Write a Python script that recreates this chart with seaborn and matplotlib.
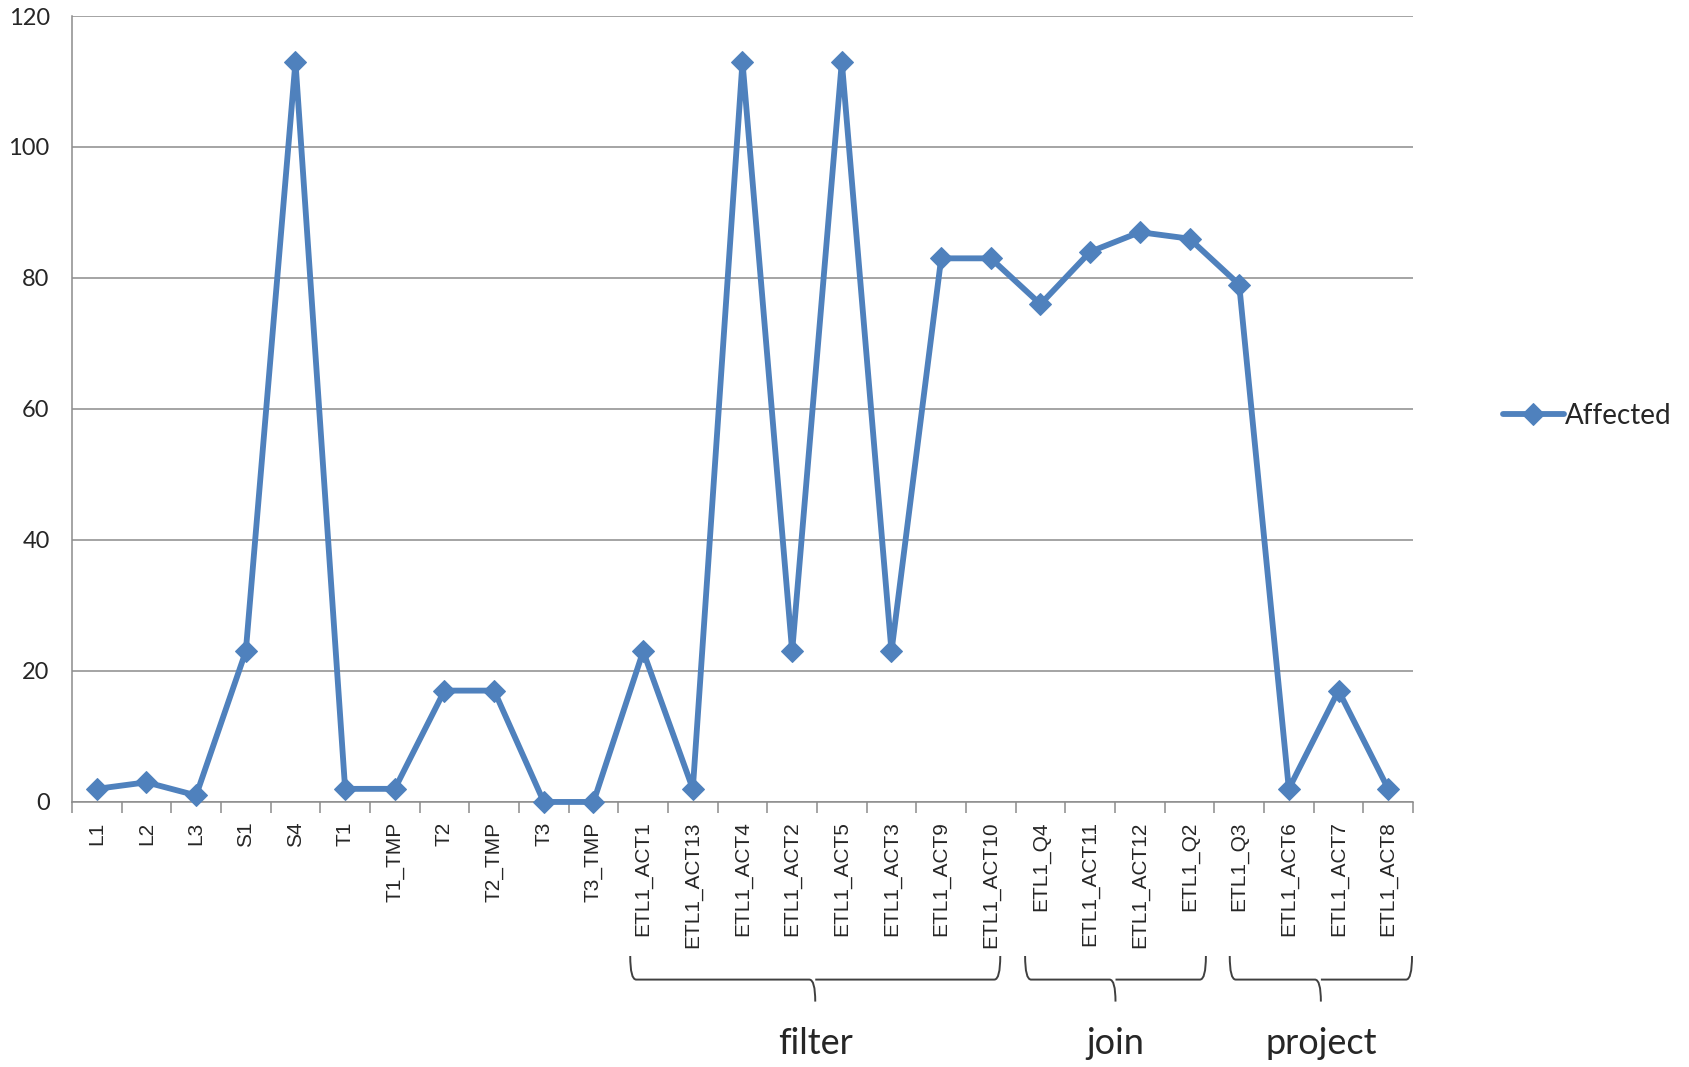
import numpy as np
import pandas as pd
import seaborn as sns
import matplotlib.pyplot as plt
from matplotlib.path import Path
from matplotlib.patches import PathPatch

categories = ['L1', 'L2', 'L3', 'S1', 'S4', 'T1', 'T1_TMP', 'T2', 'T2_TMP', 'T3', 'T3_TMP',
              'ETL1_ACT1', 'ETL1_ACT13', 'ETL1_ACT4', 'ETL1_ACT2', 'ETL1_ACT5', 'ETL1_ACT3',
              'ETL1_ACT9', 'ETL1_ACT10', 'ETL1_Q4', 'ETL1_ACT11', 'ETL1_ACT12', 'ETL1_Q2',
              'ETL1_Q3', 'ETL1_ACT6', 'ETL1_ACT7', 'ETL1_ACT8']
affected = [2, 3, 1, 23, 113, 2, 2, 17, 17, 0, 0,
            23, 2, 113, 23, 113, 23, 83, 83, 76, 84, 87, 86,
            79, 2, 17, 2]

# groups: name, first category, last category
group_names = ['filter', 'join', 'project']
group_first = ['ETL1_ACT1', 'ETL1_Q4', 'ETL1_Q3']
group_last = ['ETL1_ACT10', 'ETL1_Q2', 'ETL1_ACT8']

# hand-drawn braces do not line up exactly with the categories
brace_pad_left = [0.26, 0.31, 0.19]
brace_pad_right = [0.19, 0.33, 0.48]

blue = '#4F81BD'
grid_grey = '#8C8C8C'

df = pd.DataFrame({'category': categories, 'Affected': affected})

sns.set_style('white')
plt.rcParams['font.family'] = ['Lato', 'DejaVu Sans']

fig = plt.figure(figsize=(16.89, 10.67), dpi=100)
ax = fig.add_axes([0.0426, 0.2484, 0.7940, 0.7366])

sns.lineplot(data=df, x='category', y='Affected', sort=False, ax=ax,
             color=blue, linewidth=4.2, marker='D', markersize=11,
             markeredgecolor=blue, label='Affected', clip_on=False, zorder=3)

n = len(categories)
ax.set_xlim(-0.5, n - 0.5)
ax.set_ylim(0, 120)
ax.set_yticks(np.arange(0, 121, 20))
ax.yaxis.grid(True, color=grid_grey, linewidth=1.1)
ax.set_axisbelow(True)
ax.set_xlabel('')
ax.set_ylabel('')

# category labels at centres, tick marks at boundaries
ax.set_xticks(np.arange(n))
ax.set_xticklabels(categories, rotation=90, family='Liberation Sans', fontsize=15)
ax.set_xticks(np.arange(n + 1) - 0.5, minor=True)
ax.tick_params(axis='x', which='major', length=0, pad=14)
ax.tick_params(axis='x', which='minor', length=8, width=1.1, color=grid_grey, direction='out')
ax.tick_params(axis='y', length=8, width=1.1, color=grid_grey, labelsize=17, pad=8)
ax.tick_params(bottom=True, which='minor')

for s in ['top', 'right']:
    ax.spines[s].set_visible(False)
for s in ['left', 'bottom']:
    ax.spines[s].set_color(grid_grey)
    ax.spines[s].set_linewidth(1.1)

leg = ax.legend(loc='center left', bbox_to_anchor=(0.875, 0.61), bbox_transform=fig.transFigure,
                frameon=False, fontsize=20, handlelength=2.2, handletextpad=0.05)

# curly braces under the groups
trans = ax.get_xaxis_transform()
y_tip, y_mid, y_pt = -0.196, -0.226, -0.254
for name, first, last, pl, pr in zip(group_names, group_first, group_last,
                                     brace_pad_left, brace_pad_right):
    x0 = categories.index(first) - pl
    x1 = categories.index(last) + pr
    xm = (x0 + x1) / 2
    dx = 0.12
    verts = [(x0, y_tip), (x0, y_mid), (x0 + dx, y_mid),
             (xm - dx, y_mid), (xm, y_mid), (xm, y_pt),
             (xm, y_mid), (xm + dx, y_mid),
             (x1 - dx, y_mid), (x1, y_mid), (x1, y_tip)]
    codes = [Path.MOVETO, Path.CURVE3, Path.CURVE3,
             Path.LINETO, Path.CURVE3, Path.CURVE3,
             Path.MOVETO, Path.LINETO,
             Path.LINETO, Path.CURVE3, Path.CURVE3]
    patch = PathPatch(Path(verts, codes), transform=trans, fill=False,
                      edgecolor='#404040', linewidth=1.4, clip_on=False)
    ax.add_patch(patch)
    ax.text(xm, -0.307, name, transform=trans, ha='center', va='center', fontsize=26)

fig.savefig('out.png', dpi=100)
